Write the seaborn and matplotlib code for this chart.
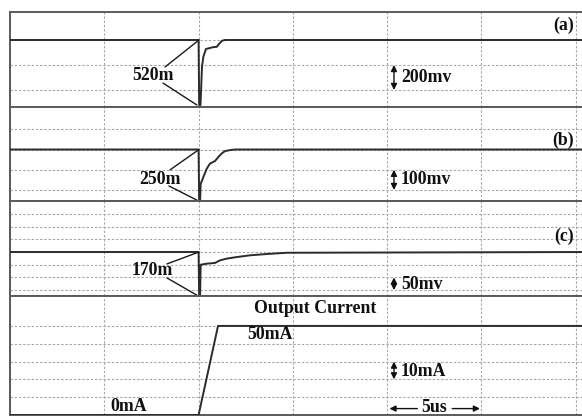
import matplotlib
matplotlib.use("Agg")
import matplotlib.pyplot as plt
import pandas as pd
import seaborn as sns

# ---- measured waveforms (time in us, load step at 10 us) ----
t_a = [0, 10.0, 10.03, 10.10, 10.18, 10.25, 10.39, 10.76, 10.97, 11.08, 11.24, 11.40, 30.5]
v_a = [0, 0, -520, -520, -216, -136, -72, -58, -54, -32, -6, 0, 0]          # mV

t_b = [0, 10.0, 10.03, 10.08, 10.11, 10.25, 10.43, 10.60, 10.87, 11.05, 11.22, 11.40, 11.66, 11.93, 30.5]
v_b = [0, 0, -250, -250, -170, -137, -95, -70, -57, -37, -20, -8, -3, 0, 0]  # mV

t_c = [0, 10.0, 10.03, 10.08, 10.11, 10.43, 10.87, 11.13, 11.49, 12.02, 12.73, 13.6, 14.67, 30.5]
v_c = [0, 0, -170, -170, -50, -46, -43, -33, -26, -20, -13, -8, -3, 0]      # mV

t_i = [0, 10.0, 11.03, 30.5]
i_out = [0, 0, 50, 50]                                                       # mA

dips = {"a": 520, "b": 250, "c": 170}          # undershoot in mV
scale_labels = {"a": "200mv", "b": "100mv", "c": "50mv", "d": "10mA"}
time_label = "5us"

sns.set_style("white")
plt.rcParams["font.family"] = ["Liberation Serif", "DejaVu Serif"]
plt.rcParams["font.weight"] = "bold"

W, H = 582, 416
fig = plt.figure(figsize=(W / 100, H / 100), dpi=100)

XMAX = 30.33
LINE = "#2b2b2b"
GRID = "#a8a8a8"
SPINE = "#5a5a5a"
FS = 12.8


def make_axes(top_px, bot_px, ylim, yticks):
    ax = fig.add_axes([10 / W, 1 - bot_px / H, (W - 10) / W, (bot_px - top_px) / H])
    ax.set_xlim(0, XMAX)
    ax.set_ylim(*ylim)
    ax.set_xticks([5, 10, 15, 20, 25, 30])
    ax.set_yticks(yticks)
    ax.tick_params(length=0, labelbottom=False, labelleft=False)
    ax.grid(True, color=GRID, linestyle=(0, (2.2, 1.6)), linewidth=0.8)
    for side in ("left", "top", "bottom"):
        ax.spines[side].set_color(SPINE)
        ax.spines[side].set_linewidth(1.4)
    ax.spines["right"].set_visible(False)
    return ax


ax_a = make_axes(12, 107, (-536, 224), [-400, -200, 0])
ax_b = make_axes(107, 201, (-254.3, 209.9), [-200, -100, 0, 100])
ax_c = make_axes(201, 296, (-173.2, 200.8), [-150, -100, -50, 0, 50, 100, 150])
ax_d = make_axes(296, 415, (0, 66.8), [10, 20, 30, 40, 50])

for ax, t, v in [(ax_a, t_a, v_a), (ax_b, t_b, v_b), (ax_c, t_c, v_c), (ax_d, t_i, i_out)]:
    df = pd.DataFrame({"t": t, "v": v})
    sns.lineplot(data=df, x="t", y="v", ax=ax, color=LINE, linewidth=1.4,
                 sort=False, estimator=None, zorder=5)
    ax.set_xlabel("")
    ax.set_ylabel("")
    ax.set_xlim(0, XMAX)

txt = dict(fontsize=FS, fontweight="bold", color="#111111", zorder=8)
lk = dict(color="#1a1a1a", linewidth=1.0, zorder=6)


def callout(ax, label, xy_text, dip, up_start, lo_start):
    ax.text(xy_text[0], xy_text[1], label, ha="center", va="center", **txt)
    ax.plot([up_start[0], 10.02], [up_start[1], 0], **lk)
    ax.plot([lo_start[0], 9.91], [lo_start[1], -dip], **lk)


callout(ax_a, f"{dips['a']}m", (7.58, -280), dips["a"], (8.22, -216), (8.11, -344))
callout(ax_b, f"{dips['b']}m", (7.95, -146), dips["b"], (8.48, -101), (8.43, -180))
callout(ax_c, f"{dips['c']}m", (7.53, -74), dips["c"], (8.32, -47), (8.32, -102))

# panel tags
ax_a.text(29.9, 120, "(a)", ha="right", va="center", **txt)
ax_b.text(29.9, 47, "(b)", ha="right", va="center", **txt)
ax_c.text(29.9, 60, "(c)", ha="right", va="center", **txt)

# per-division scale markers
arr = dict(arrowstyle="<|-|>", color="#111111", lw=1.0, mutation_scale=9, shrinkA=0, shrinkB=0)
XA, XT = 20.36, 20.72
for ax, (y1, y2), ytxt, key in [(ax_a, (-200, -400), -300, "a"),
                                (ax_b, (-100, -200), -150, "b"),
                                (ax_c, (-100, -150), -128, "c"),
                                (ax_d, (30, 20), 24.5, "d")]:
    ax.annotate("", xy=(XA, y1), xytext=(XA, y2), arrowprops=arr, zorder=7)
    ax.text(XT, ytxt, scale_labels[key], ha="left", va="center", **txt)

# current panel labels
ax_d.text(16.2, 60.0, "Output Current", ha="center", va="center", **txt)
ax_d.text(13.8, 45.0, f"{i_out[-1]}mA", ha="center", va="center", **txt)
ax_d.text(6.3, 4.8, f"{i_out[0]}mA", ha="center", va="center", **txt)

# time-per-division marker
harr = dict(arrowstyle="-|>", color="#111111", lw=1.0, mutation_scale=9, shrinkA=0, shrinkB=0)
ax_d.text(22.5, 4.0, time_label, ha="center", va="center", **txt)
ax_d.annotate("", xy=(20.12, 3.6), xytext=(21.6, 3.6), arrowprops=harr)
ax_d.annotate("", xy=(24.92, 3.6), xytext=(23.45, 3.6), arrowprops=harr)

fig.savefig("out.png", dpi=100)
